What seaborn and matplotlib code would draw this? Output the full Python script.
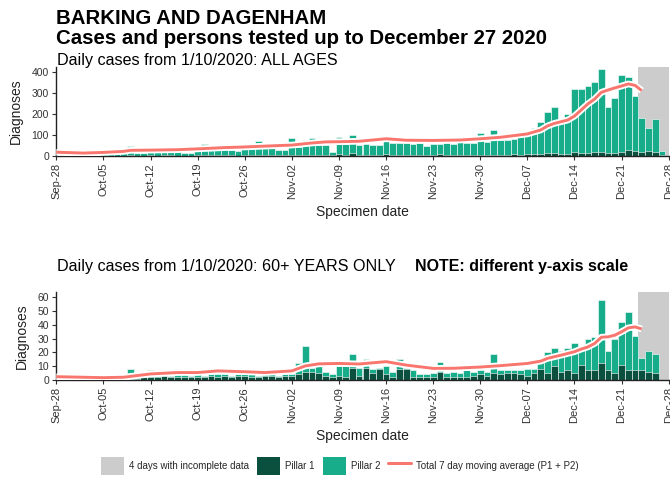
import numpy as np
import pandas as pd
import matplotlib
matplotlib.use("Agg")
import matplotlib.pyplot as plt
import matplotlib.dates as mdates
from matplotlib.patches import Patch
from matplotlib.lines import Line2D
import seaborn as sns

# ---------------- data ----------------
bar_dates = pd.date_range("2020-10-01", "2020-12-27", freq="D")

# ALL AGES: total (P1 + P2) and Pillar 1
all_total = [8, 10, 7, 5, 8, 9, 12,
             16, 46, 14, 12, 18, 20, 22,
             24, 22, 16, 14, 26, 57, 28,
             30, 32, 28, 26, 58, 36, 70,
             40, 38, 30, 28, 84, 42, 76,
             84, 52, 52, 20, 90, 57, 100,
             52, 55, 52, 54, 88, 60, 62,
             60, 58, 60, 48, 57, 57, 60,
             57, 90, 60, 63, 108, 68, 124,
             76, 76, 80, 116, 120, 132, 163,
             208, 232, 156, 198, 317, 317, 333,
             354, 413, 235, 278, 386, 378, 286,
             182, 132, 176, 25]
all_p1 = [1, 1, 0, 1, 1, 1, 2,
          2, 3, 2, 1, 3, 2, 3,
          3, 2, 2, 2, 3, 3, 4,
          3, 4, 3, 2, 4, 3, 5,
          4, 5, 3, 3, 5, 4, 6,
          6, 5, 4, 3, 8, 6, 15,
          5, 6, 4, 5, 8, 6, 5,
          7, 4, 3, 3, 5, 8, 4,
          4, 5, 4, 4, 6, 5, 7,
          6, 6, 8, 7, 8, 9, 10,
          14, 15, 10, 11, 18, 15, 16,
          18, 20, 14, 12, 18, 30, 22,
          20, 22, 18, 4]

# 60+ YEARS: total (P1 + P2) and Pillar 1
old_total = [1, 1, 1, 0, 1, 1, 2,
             4, 8, 2, 3, 7, 3, 4,
             3, 8, 4, 3, 4, 3, 4,
             4, 4, 3, 4, 4, 4, 3,
             4, 4, 3, 4, 4, 12, 25,
             9, 10, 6, 4, 10, 10, 19,
             9, 15, 8, 9, 10, 6, 15,
             9, 7, 4, 4, 5, 13, 5,
             6, 5, 7, 6, 7, 6, 19,
             7, 7, 7, 7, 8, 8, 15,
             20, 23, 21, 23, 27, 25, 30,
             31, 58, 21, 30, 42, 49, 32,
             16, 21, 19, 0]
old_p1 = [0, 1, 0, 0, 1, 0, 1,
          1, 1, 1, 2, 2, 2, 3,
          2, 2, 2, 2, 2, 2, 3,
          2, 3, 2, 3, 3, 2, 2,
          3, 3, 2, 3, 3, 4, 6,
          6, 5, 3, 2, 3, 2, 9,
          3, 9, 5, 8, 4, 2, 8,
          8, 2, 2, 2, 2, 6, 2,
          2, 2, 2, 3, 4, 3, 5,
          4, 5, 5, 4, 3, 5, 8,
          5, 10, 6, 7, 5, 11, 7,
          7, 12, 7, 5, 11, 7, 7,
          7, 6, 5, 0]

# 7-day moving average readings
all_avg_dates = pd.to_datetime([
    "2020-09-28", "2020-10-02", "2020-10-05", "2020-10-08", "2020-10-09",
    "2020-10-12", "2020-10-16", "2020-10-19", "2020-10-23", "2020-10-26",
    "2020-10-29", "2020-11-02", "2020-11-05", "2020-11-07", "2020-11-09",
    "2020-11-12", "2020-11-16", "2020-11-19", "2020-11-23", "2020-11-27",
    "2020-11-30", "2020-12-03", "2020-12-07", "2020-12-09", "2020-12-10",
    "2020-12-11", "2020-12-13", "2020-12-14", "2020-12-15", "2020-12-16",
    "2020-12-17", "2020-12-18", "2020-12-19", "2020-12-20", "2020-12-21",
    "2020-12-22", "2020-12-23", "2020-12-24"])
all_avg = [18, 14, 17, 22, 27, 28, 30, 34, 40, 43, 47, 52, 62, 67, 68, 70, 82,
           75, 74, 76, 82, 89, 105, 124, 143, 155, 171, 190, 219, 248, 271, 303,
           314, 324, 333, 343, 336, 311]

old_avg_dates = pd.to_datetime([
    "2020-09-28", "2020-10-05", "2020-10-08", "2020-10-12", "2020-10-16",
    "2020-10-19", "2020-10-22", "2020-10-26", "2020-10-29", "2020-11-02",
    "2020-11-04", "2020-11-06", "2020-11-09", "2020-11-12", "2020-11-16",
    "2020-11-19", "2020-11-23", "2020-11-26", "2020-11-30", "2020-12-03",
    "2020-12-07", "2020-12-09", "2020-12-10", "2020-12-12", "2020-12-14",
    "2020-12-15", "2020-12-16", "2020-12-17", "2020-12-18", "2020-12-19",
    "2020-12-20", "2020-12-21", "2020-12-22", "2020-12-23", "2020-12-24"])
old_avg = [2.4, 1.7, 2.0, 4.4, 5.4, 5.4, 6.6, 6.0, 5.4, 6.6, 10.2, 11.7, 12.0,
           11.6, 13.3, 10.8, 8.4, 8.5, 9.4, 10.4, 12.0, 13.7, 15.7, 18.0, 20.5,
           22.4, 24.0, 26.5, 31.0, 31.3, 32.5, 35.0, 37.8, 38.5, 37.0]

tick_dates = pd.date_range("2020-09-28", "2020-12-28", freq="7D")
tick_labels = [d.strftime("%b-%d") for d in tick_dates]
top_yticks = [0, 100, 200, 300, 400]
bottom_yticks = [0, 10, 20, 30, 40, 50, 60]
incomplete_from = pd.Timestamp("2020-12-23 12:00")

# ---------------- style ----------------
GREY = "#CCCCCC"
DARK = "#0B4F3E"
TEAL = "#17AD8B"
RED = "#F8766D"
TXT = "#000000"

sns.set_theme(style="ticks")
plt.rcParams["font.family"] = ["Liberation Sans", "DejaVu Sans"]

W, H = 670, 483
fig = plt.figure(figsize=(W / 100, H / 100), dpi=100)


def fx(px):
    return px / W


def fy(py):
    return 1 - py / H


ax1 = fig.add_axes([fx(56), fy(156), fx(669) - fx(56), fy(67.3) - fy(156)])
ax2 = fig.add_axes([fx(56), fy(380), fx(669) - fx(56), fy(292.3) - fy(380)])

xl = mdates.date2num(pd.Timestamp("2020-09-28")) - 0.05
xr = mdates.date2num(pd.Timestamp("2020-12-28")) + 0.05


def panel(ax, total, p1, avg_dates, avg, ymax, yticks):
    x = mdates.date2num(bar_dates)
    ax.axvspan(mdates.date2num(incomplete_from), xr + 1, color=GREY, lw=0, zorder=0)
    sns.barplot(x=x, y=total, native_scale=True, width=1, color=TEAL,
                saturation=1, edgecolor="white", linewidth=0.4, errorbar=None,
                ax=ax, zorder=2)
    sns.barplot(x=x, y=p1, native_scale=True, width=1, color=DARK,
                saturation=1, edgecolor="white", linewidth=0.4, errorbar=None,
                ax=ax, zorder=2.5)
    xa = mdates.date2num(avg_dates)
    sns.lineplot(x=xa, y=avg, color="white", lw=4.8, ax=ax, zorder=3,
                 solid_capstyle="butt")
    sns.lineplot(x=xa, y=avg, color=RED, lw=2.1, ax=ax, zorder=4,
                 solid_capstyle="butt")
    ax.set_xlim(xl, xr)
    ax.set_ylim(0, ymax)
    ax.set_yticks(yticks)
    ax.set_yticklabels([str(t) for t in yticks], fontsize=7.5, color="#333333")
    ax.set_xticks(mdates.date2num(tick_dates))
    ax.set_xticklabels(tick_labels, rotation=90, fontsize=8, color="#333333")
    ax.set_ylabel("Diagnoses", fontsize=10, color="#222222", labelpad=6)
    ax.set_xlabel("Specimen date", fontsize=10, color="#222222", labelpad=4)
    ax.tick_params(axis="both", length=3, width=0.8, color="#333333", pad=2)
    for s in ["top", "right"]:
        ax.spines[s].set_visible(False)
    for s in ["left", "bottom"]:
        ax.spines[s].set_color("#222222")
        ax.spines[s].set_linewidth(1.0)
    ax.set_facecolor("white")


panel(ax1, all_total, all_p1, all_avg_dates, all_avg, 422, top_yticks)
panel(ax2, old_total, old_p1, old_avg_dates, old_avg, 63.6, bottom_yticks)

# titles
fig.text(fx(56), fy(18.5), "BARKING AND DAGENHAM", fontsize=14.7, fontweight="bold",
         va="center", ha="left", color=TXT)
fig.text(fx(56), fy(38.5), "Cases and persons tested up to December 27 2020",
         fontsize=14.7, fontweight="bold", va="center", ha="left", color=TXT)
fig.text(fx(57), fy(60), "Daily cases from 1/10/2020: ALL AGES", fontsize=11.6,
         va="center", ha="left", color=TXT)
fig.text(fx(57), fy(266), "Daily cases from 1/10/2020: 60+ YEARS ONLY", fontsize=11.6,
         va="center", ha="left", color=TXT)
fig.text(fx(415), fy(266), "NOTE: different y-axis scale", fontsize=11.5,
         fontweight="bold", va="center", ha="left", color=TXT)

# legend
handles = [Patch(facecolor=GREY, edgecolor="none"),
           Patch(facecolor=DARK, edgecolor="none"),
           Patch(facecolor=TEAL, edgecolor="none"),
           Line2D([0], [0], color=RED, lw=2.2)]
labels = ["4 days with incomplete data", "Pillar 1", "Pillar 2",
          "Total 7 day moving average (P1 + P2)"]
fig.legend(handles, labels, loc="center", bbox_to_anchor=(fx(340), fy(466)),
           ncol=4, frameon=False, fontsize=7, handlelength=2.4, handleheight=2.4,
           columnspacing=0.8, handletextpad=0.5)

fig.savefig("out.png", dpi=100, facecolor="white")
